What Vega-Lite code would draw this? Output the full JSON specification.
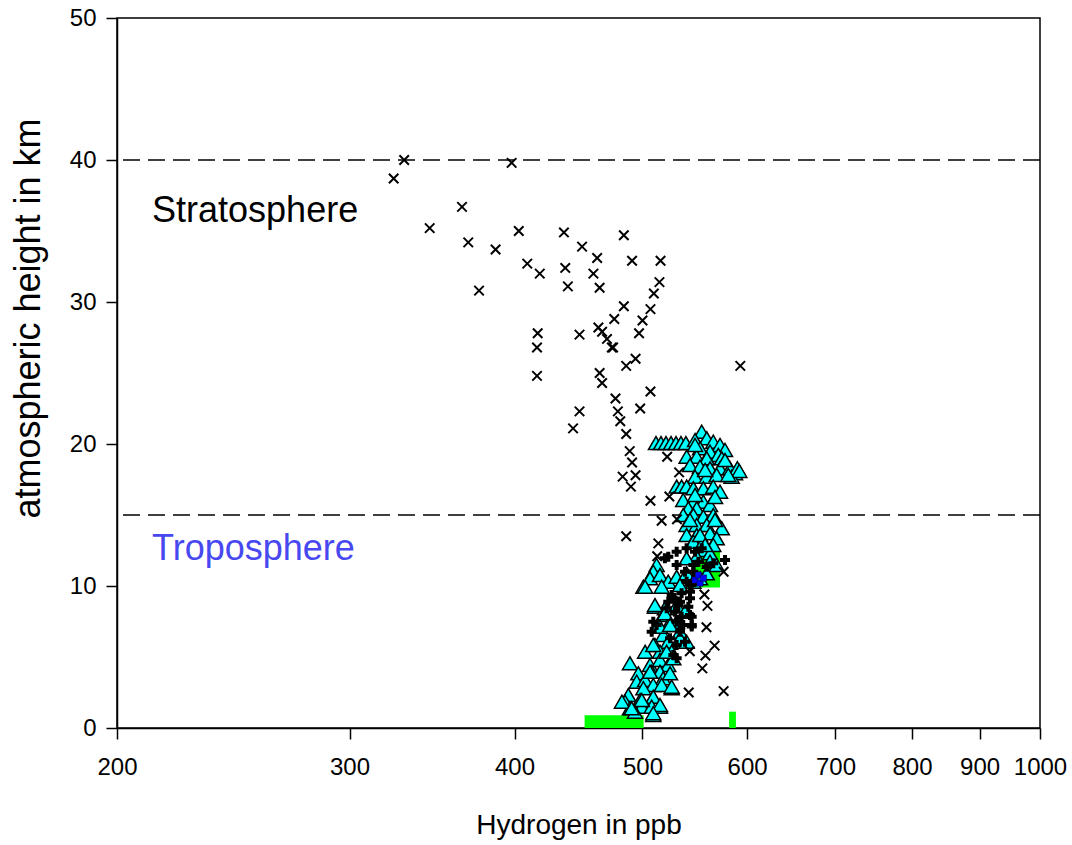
{
  "$schema": "https://vega.github.io/schema/vega-lite/v6.json",
  "width": 923,
  "height": 710,
  "autosize": "none",
  "padding": {"left": 117, "top": 18, "right": 32, "bottom": 117},
  "background": "white",
  "config": {
    "view": {"stroke": "black", "strokeWidth": 1.5},
    "font": "Liberation Sans",
    "axis": {
      "grid": false,
      "domainColor": "black",
      "domainWidth": 1.5,
      "tickColor": "black",
      "tickWidth": 1.5,
      "tickSize": 11,
      "labelColor": "black",
      "titleColor": "black",
      "labelFont": "Liberation Sans",
      "titleFont": "Liberation Sans",
      "labelFontSize": 24,
      "titleFontSize": 28,
      "titleFontWeight": "normal",
      "labelFlush": false,
      "labelOverlap": false
    },
    "axisX": {"labelPadding": 16, "titlePadding": 32},
    "axisY": {"labelPadding": 10, "titlePadding": 22, "titleFontSize": 36, "titleY": 300}
  },
  "datasets": {
    "crosses": [
      {"h2": 330, "alt": 40.0}, {"h2": 324, "alt": 38.7}, {"h2": 365, "alt": 36.7}, {"h2": 345, "alt": 35.2},
      {"h2": 403, "alt": 35.0}, {"h2": 436, "alt": 34.9}, {"h2": 369, "alt": 34.2}, {"h2": 387, "alt": 33.7},
      {"h2": 409, "alt": 32.7}, {"h2": 418, "alt": 32.0}, {"h2": 437, "alt": 32.4}, {"h2": 439, "alt": 31.1},
      {"h2": 376, "alt": 30.8}, {"h2": 398, "alt": 39.8}, {"h2": 450, "alt": 33.9}, {"h2": 484, "alt": 34.7},
      {"h2": 462, "alt": 33.1}, {"h2": 491, "alt": 32.9}, {"h2": 516, "alt": 32.9}, {"h2": 459, "alt": 32.0},
      {"h2": 515, "alt": 31.4}, {"h2": 464, "alt": 31.0}, {"h2": 510, "alt": 30.6}, {"h2": 507, "alt": 29.5},
      {"h2": 500, "alt": 28.7}, {"h2": 484, "alt": 29.7}, {"h2": 476, "alt": 28.8}, {"h2": 497, "alt": 27.8},
      {"h2": 494, "alt": 26.0}, {"h2": 486, "alt": 25.5}, {"h2": 463, "alt": 28.2}, {"h2": 466, "alt": 27.9},
      {"h2": 470, "alt": 27.4}, {"h2": 474, "alt": 26.8}, {"h2": 475, "alt": 26.8}, {"h2": 448, "alt": 27.7},
      {"h2": 416.5, "alt": 27.8}, {"h2": 416, "alt": 26.8}, {"h2": 416, "alt": 24.8}, {"h2": 593, "alt": 25.5},
      {"h2": 464, "alt": 25.0}, {"h2": 466, "alt": 24.3}, {"h2": 477, "alt": 23.2}, {"h2": 507, "alt": 23.7},
      {"h2": 498, "alt": 22.5}, {"h2": 479, "alt": 22.3}, {"h2": 481, "alt": 21.6}, {"h2": 448, "alt": 22.3},
      {"h2": 443, "alt": 21.1}, {"h2": 486, "alt": 20.7}, {"h2": 489, "alt": 19.5}, {"h2": 491, "alt": 18.7},
      {"h2": 483, "alt": 17.7}, {"h2": 494, "alt": 17.8}, {"h2": 490, "alt": 17.0}, {"h2": 507, "alt": 16.0},
      {"h2": 522, "alt": 19.1}, {"h2": 533, "alt": 18.0}, {"h2": 524, "alt": 16.3}, {"h2": 517, "alt": 14.6},
      {"h2": 531, "alt": 14.7}, {"h2": 486, "alt": 13.5}, {"h2": 514, "alt": 13.0}, {"h2": 513, "alt": 12.1},
      {"h2": 576, "alt": 11.0}, {"h2": 557, "alt": 9.4}, {"h2": 560, "alt": 8.6}, {"h2": 559, "alt": 7.1},
      {"h2": 567, "alt": 5.8}, {"h2": 558, "alt": 5.1}, {"h2": 555, "alt": 4.2}, {"h2": 543, "alt": 5.4},
      {"h2": 542, "alt": 2.5}, {"h2": 576, "alt": 2.6}
    ],
    "triangles": [
      {"h2": 511.9, "alt": 20.07}, {"h2": 516.4, "alt": 20.07}, {"h2": 520.9, "alt": 20.07}, {"h2": 525.5, "alt": 20.07},
      {"h2": 530.1, "alt": 20.07}, {"h2": 534.7, "alt": 20.07}, {"h2": 539.3, "alt": 20.07},
      {"h2": 554.4, "alt": 20.87}, {"h2": 548.0, "alt": 20.28}, {"h2": 559.3, "alt": 20.40}, {"h2": 565.7, "alt": 20.16},
      {"h2": 572.4, "alt": 19.93}, {"h2": 577.4, "alt": 19.58}, {"h2": 552.8, "alt": 19.70}, {"h2": 562.5, "alt": 19.46},
      {"h2": 570.7, "alt": 19.23}, {"h2": 540.0, "alt": 19.11}, {"h2": 549.6, "alt": 19.11}, {"h2": 559.3, "alt": 18.99},
      {"h2": 574.1, "alt": 18.99}, {"h2": 543.2, "alt": 18.52}, {"h2": 552.8, "alt": 18.40}, {"h2": 562.5, "alt": 18.29},
      {"h2": 572.4, "alt": 18.29}, {"h2": 582.4, "alt": 18.29}, {"h2": 587.6, "alt": 17.94}, {"h2": 584.1, "alt": 17.70},
      {"h2": 590.0, "alt": 18.3}, {"h2": 592.0, "alt": 18.1},
      {"h2": 548.0, "alt": 17.70}, {"h2": 559.3, "alt": 17.70}, {"h2": 569.1, "alt": 17.82}, {"h2": 580.7, "alt": 17.82},
      {"h2": 530.7, "alt": 17.0}, {"h2": 535.3, "alt": 17.0}, {"h2": 540.0, "alt": 17.0}, {"h2": 546.4, "alt": 16.88},
      {"h2": 556.0, "alt": 16.88}, {"h2": 565.7, "alt": 16.99}, {"h2": 572.4, "alt": 16.64}, {"h2": 536.8, "alt": 16.06},
      {"h2": 546.4, "alt": 15.94}, {"h2": 556.0, "alt": 15.94}, {"h2": 562.5, "alt": 15.70}, {"h2": 541.6, "alt": 15.47},
      {"h2": 549.6, "alt": 15.47}, {"h2": 536.8, "alt": 15.0}, {"h2": 546.4, "alt": 15.0}, {"h2": 556.0, "alt": 14.88},
      {"h2": 565.7, "alt": 15.0}, {"h2": 540.0, "alt": 14.30}, {"h2": 549.6, "alt": 14.30}, {"h2": 559.3, "alt": 14.30},
      {"h2": 574.1, "alt": 14.06}, {"h2": 540.0, "alt": 13.59}, {"h2": 549.6, "alt": 13.59}, {"h2": 562.5, "alt": 13.71},
      {"h2": 569.1, "alt": 13.36}, {"h2": 546.4, "alt": 13.12}, {"h2": 556.0, "alt": 13.12}, {"h2": 565.7, "alt": 12.89},
      {"h2": 556.0, "alt": 12.54}, {"h2": 562.5, "alt": 12.30}, {"h2": 549.6, "alt": 12.06}, {"h2": 540.0, "alt": 11.95},
      {"h2": 562.5, "alt": 11.71}, {"h2": 569.1, "alt": 11.48},
      {"h2": 552.8, "alt": 13.59}, {"h2": 543.2, "alt": 14.65}, {"h2": 567.4, "alt": 14.65}, {"h2": 557.7, "alt": 12.89},
      {"h2": 548.0, "alt": 16.41}, {"h2": 567.4, "alt": 16.27}, {"h2": 577.4, "alt": 18.87}, {"h2": 557.7, "alt": 18.17},
      {"h2": 548.0, "alt": 19.93},
      {"h2": 512.5, "alt": 11.48}, {"h2": 509.5, "alt": 11.01}, {"h2": 506.6, "alt": 10.54}, {"h2": 500.8, "alt": 9.95},
      {"h2": 515.5, "alt": 10.77}, {"h2": 523.0, "alt": 10.30}, {"h2": 517.0, "alt": 9.95}, {"h2": 530.7, "alt": 10.65},
      {"h2": 540.0, "alt": 10.89}, {"h2": 533.8, "alt": 10.07}, {"h2": 546.4, "alt": 10.30}, {"h2": 559.3, "alt": 10.89},
      {"h2": 552.8, "alt": 10.54}, {"h2": 502.3, "alt": 9.95},
      {"h2": 511.0, "alt": 8.54}, {"h2": 519.9, "alt": 8.43}, {"h2": 530.7, "alt": 8.66}, {"h2": 538.5, "alt": 8.19},
      {"h2": 518.4, "alt": 7.96}, {"h2": 513.9, "alt": 7.25}, {"h2": 523.0, "alt": 7.25}, {"h2": 530.7, "alt": 7.49},
      {"h2": 533.8, "alt": 6.78}, {"h2": 518.4, "alt": 6.55}, {"h2": 511.0, "alt": 5.85}, {"h2": 523.0, "alt": 6.08},
      {"h2": 533.8, "alt": 6.32}, {"h2": 540.0, "alt": 6.08}, {"h2": 515.5, "alt": 5.37}, {"h2": 526.1, "alt": 5.37},
      {"h2": 502.3, "alt": 5.37}, {"h2": 506.6, "alt": 4.44}, {"h2": 515.5, "alt": 4.79}, {"h2": 523.0, "alt": 4.44},
      {"h2": 527.6, "alt": 4.91}, {"h2": 489.2, "alt": 4.56}, {"h2": 496.4, "alt": 3.85}, {"h2": 495.0, "alt": 3.26},
      {"h2": 502.3, "alt": 3.38}, {"h2": 508.1, "alt": 3.96}, {"h2": 515.5, "alt": 3.96}, {"h2": 518.4, "alt": 3.50},
      {"h2": 524.6, "alt": 3.85}, {"h2": 509.5, "alt": 3.03}, {"h2": 517.0, "alt": 3.03}, {"h2": 526.1, "alt": 2.80},
      {"h2": 500.8, "alt": 2.80}, {"h2": 487.8, "alt": 2.32}, {"h2": 485.0, "alt": 1.85}, {"h2": 497.9, "alt": 1.97},
      {"h2": 509.5, "alt": 2.20}, {"h2": 489.2, "alt": 1.39}, {"h2": 499.4, "alt": 1.50}, {"h2": 508.1, "alt": 1.50},
      {"h2": 515.5, "alt": 1.50}, {"h2": 493.5, "alt": 1.15}, {"h2": 509.5, "alt": 0.92},
      {"h2": 511.0, "alt": 8.66}, {"h2": 519.9, "alt": 8.08}, {"h2": 515.5, "alt": 7.13}, {"h2": 524.6, "alt": 7.25},
      {"h2": 509.5, "alt": 5.85}, {"h2": 521.5, "alt": 5.37}, {"h2": 506.6, "alt": 3.96}, {"h2": 526.1, "alt": 2.91},
      {"h2": 482.4, "alt": 1.85}, {"h2": 499.4, "alt": 1.97}, {"h2": 515.5, "alt": 1.62}, {"h2": 509.5, "alt": 1.04},
      {"h2": 490.6, "alt": 1.39}
    ],
    "pluses": [
      {"h2": 523.0, "alt": 12.06}, {"h2": 530.7, "alt": 12.42}, {"h2": 540.0, "alt": 12.65}, {"h2": 548.0, "alt": 12.42},
      {"h2": 554.4, "alt": 12.65}, {"h2": 577.4, "alt": 11.83}, {"h2": 565.7, "alt": 11.60}, {"h2": 559.3, "alt": 11.36},
      {"h2": 551.2, "alt": 11.71}, {"h2": 530.7, "alt": 11.48}, {"h2": 538.5, "alt": 11.01}, {"h2": 546.4, "alt": 11.48},
      {"h2": 540.0, "alt": 10.30}, {"h2": 526.1, "alt": 9.37}, {"h2": 535.3, "alt": 9.49}, {"h2": 543.2, "alt": 9.13},
      {"h2": 523.0, "alt": 8.89}, {"h2": 532.3, "alt": 8.66}, {"h2": 541.6, "alt": 8.54}, {"h2": 529.2, "alt": 8.19},
      {"h2": 521.5, "alt": 8.43}, {"h2": 535.3, "alt": 7.84}, {"h2": 543.2, "alt": 7.96}, {"h2": 544.8, "alt": 7.25},
      {"h2": 536.8, "alt": 7.25}, {"h2": 530.7, "alt": 7.49}, {"h2": 509.5, "alt": 7.49}, {"h2": 512.5, "alt": 7.25},
      {"h2": 508.1, "alt": 6.78}, {"h2": 533.8, "alt": 6.78}, {"h2": 524.6, "alt": 6.32}, {"h2": 530.7, "alt": 5.85},
      {"h2": 538.5, "alt": 6.08}, {"h2": 527.6, "alt": 5.14}, {"h2": 530.7, "alt": 4.91}, {"h2": 544.8, "alt": 7.84},
      {"h2": 527.6, "alt": 9.13}, {"h2": 533.8, "alt": 8.89}, {"h2": 519.9, "alt": 11.95}, {"h2": 543.2, "alt": 9.60},
      {"h2": 546.4, "alt": 11.01}, {"h2": 544.8, "alt": 10.07}, {"h2": 544.8, "alt": 7.14}
    ],
    "blue": [
      {"h2": 548.0, "alt": 10.42}, {"h2": 552.8, "alt": 10.21}, {"h2": 551.2, "alt": 10.77}, {"h2": 556.0, "alt": 10.56}
    ],
    "green": [
      {"h2": 547.5, "h2end": 572.4, "alt": 9.9, "altend": 12.4},
      {"h2": 452, "h2end": 501, "alt": 0, "altend": 0.9},
      {"h2": 581.5, "h2end": 588.5, "alt": 0, "altend": 1.15}
    ],
    "lines": [{"alt": 40}, {"alt": 15}],
    "labels": [
      {"h2": 212.6, "alt": 36.4, "text": "Stratosphere", "color": "#000000"},
      {"h2": 212.6, "alt": 12.6, "text": "Troposphere", "color": "#4848F0"}
    ]
  },
  "layer": [
    {
      "data": {"name": "green"},
      "mark": {"type": "rect", "color": "#00FF00"},
      "encoding": {
        "x": {"field": "h2", "type": "quantitative", "title": "Hydrogen in ppb", "scale": {"type": "log", "domain": [200, 1000]},
              "axis": {"values": [200, 300, 400, 500, 600, 700, 800, 900, 1000], "format": "d"}},
        "x2": {"field": "h2end"},
        "y": {"field": "alt", "type": "quantitative", "title": "atmospheric height in km", "scale": {"domain": [0, 50]},
              "axis": {"values": [0, 10, 20, 30, 40, 50]}},
        "y2": {"field": "altend"}
      }
    },
    {
      "data": {"name": "lines"},
      "mark": {"type": "rule", "color": "black", "strokeWidth": 1.6, "strokeDash": [17, 8]},
      "encoding": {
        "y": {"field": "alt", "type": "quantitative", "title": "atmospheric height in km", "scale": {"domain": [0, 50]},
              "axis": {"values": [0, 10, 20, 30, 40, 50]}}
      }
    },
    {
      "data": {"name": "triangles"},
      "mark": {"type": "point", "shape": "triangle-up", "filled": true, "fill": "#00FFFF", "stroke": "black", "strokeWidth": 1.5, "size": 225, "opacity": 1, "fillOpacity": 1},
      "encoding": {
        "x": {"field": "h2", "type": "quantitative", "title": "Hydrogen in ppb", "scale": {"type": "log", "domain": [200, 1000]},
              "axis": {"values": [200, 300, 400, 500, 600, 700, 800, 900, 1000], "format": "d"}},
        "y": {"field": "alt", "type": "quantitative", "title": "atmospheric height in km", "scale": {"domain": [0, 50]},
              "axis": {"values": [0, 10, 20, 30, 40, 50]}}
      }
    },
    {
      "data": {"name": "crosses"},
      "mark": {"type": "point", "shape": "M-1,-1L1,1M-1,1L1,-1", "filled": false, "stroke": "black", "strokeWidth": 2, "size": 90, "opacity": 1},
      "encoding": {
        "x": {"field": "h2", "type": "quantitative", "title": "Hydrogen in ppb", "scale": {"type": "log", "domain": [200, 1000]},
              "axis": {"values": [200, 300, 400, 500, 600, 700, 800, 900, 1000], "format": "d"}},
        "y": {"field": "alt", "type": "quantitative", "title": "atmospheric height in km", "scale": {"domain": [0, 50]},
              "axis": {"values": [0, 10, 20, 30, 40, 50]}}
      }
    },
    {
      "data": {"name": "pluses"},
      "mark": {"type": "point", "shape": "cross", "filled": true, "fill": "black", "size": 100, "opacity": 1},
      "encoding": {
        "x": {"field": "h2", "type": "quantitative", "title": "Hydrogen in ppb", "scale": {"type": "log", "domain": [200, 1000]},
              "axis": {"values": [200, 300, 400, 500, 600, 700, 800, 900, 1000], "format": "d"}},
        "y": {"field": "alt", "type": "quantitative", "title": "atmospheric height in km", "scale": {"domain": [0, 50]},
              "axis": {"values": [0, 10, 20, 30, 40, 50]}}
      }
    },
    {
      "data": {"name": "blue"},
      "mark": {"type": "point", "shape": "square", "filled": true, "fill": "#0000FF", "stroke": "black", "strokeWidth": 0.5, "size": 40, "opacity": 1},
      "encoding": {
        "x": {"field": "h2", "type": "quantitative", "title": "Hydrogen in ppb", "scale": {"type": "log", "domain": [200, 1000]},
              "axis": {"values": [200, 300, 400, 500, 600, 700, 800, 900, 1000], "format": "d"}},
        "y": {"field": "alt", "type": "quantitative", "title": "atmospheric height in km", "scale": {"domain": [0, 50]},
              "axis": {"values": [0, 10, 20, 30, 40, 50]}}
      }
    },
    {
      "data": {"name": "labels"},
      "mark": {"type": "text", "align": "left", "baseline": "middle", "fontSize": 36, "font": "Liberation Sans"},
      "encoding": {
        "x": {"field": "h2", "type": "quantitative", "title": "Hydrogen in ppb", "scale": {"type": "log", "domain": [200, 1000]},
              "axis": {"values": [200, 300, 400, 500, 600, 700, 800, 900, 1000], "format": "d"}},
        "y": {"field": "alt", "type": "quantitative", "title": "atmospheric height in km", "scale": {"domain": [0, 50]},
              "axis": {"values": [0, 10, 20, 30, 40, 50]}},
        "text": {"field": "text"},
        "color": {"field": "color", "type": "nominal", "scale": null}
      }
    }
  ]
}
